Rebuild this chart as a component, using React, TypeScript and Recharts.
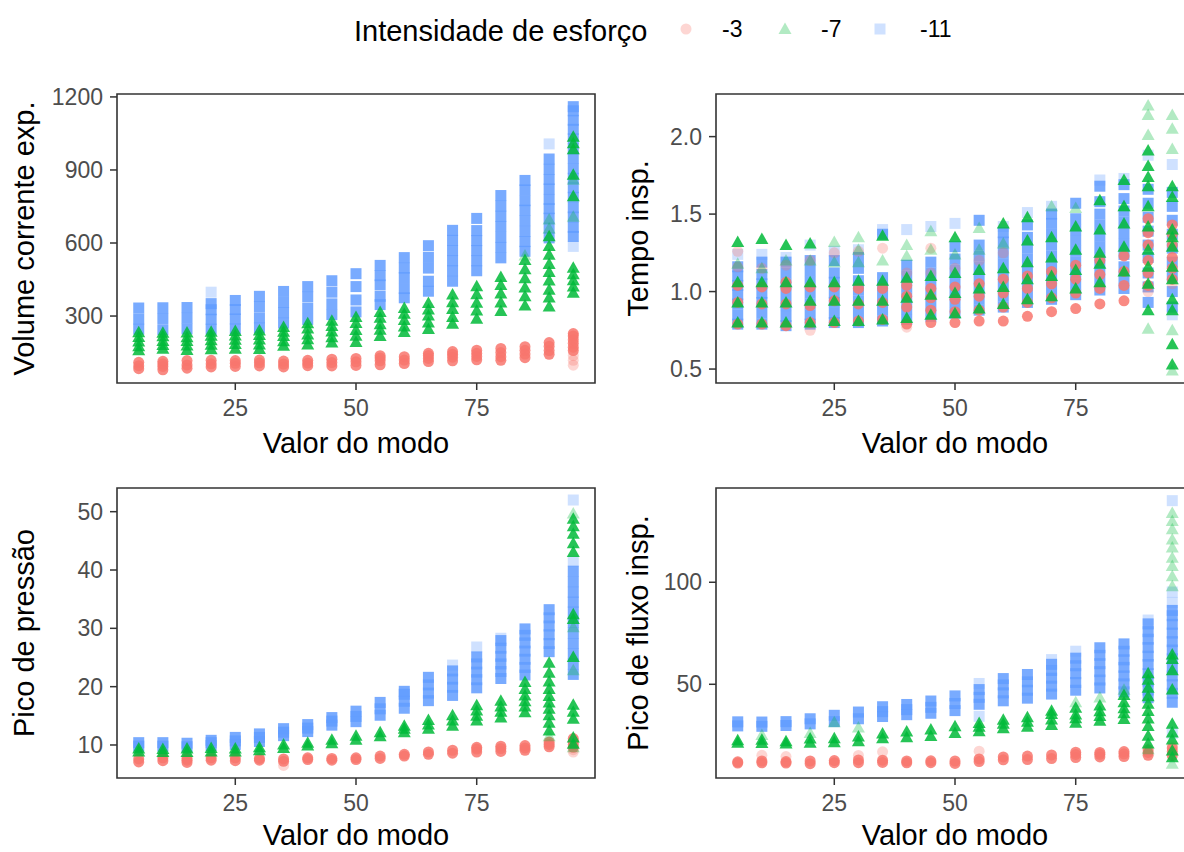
import React from "react";
import { ScatterChart, Scatter, XAxis, YAxis, ReferenceArea, Label } from "recharts";

const RED = "#F8766D";
const GREEN = "#00BA38";
const BLUE = "#619CFF";
const FONT = '"Liberation Sans", Arial, Helvetica, sans-serif';

const modes = [5, 10, 15, 20, 25, 30, 35, 40, 45, 50, 55, 60, 65, 70, 75, 80, 85, 90, 95];
const modeTicks = [25, 50, 75];
const effortLabels = ["-3", "-7", "-11"];

// Volume corrente exp. : dense clusters per mode, then single light points [mode, value]
const volRed = [
  [84, 96, 110], [79, 93, 104, 114], [86, 99, 117], [91, 104, 118], [93, 106, 117],
  [95, 108, 119], [91, 103, 115], [96, 107, 118], [95, 109, 123], [97, 112, 126],
  [100, 116, 128, 137], [105, 119, 133], [113, 126, 138, 147], [116, 131, 143, 154],
  [120, 134, 147, 160], [118, 133, 150, 167], [129, 144, 159, 174], [143, 158, 176, 191],
  [158, 172, 188, 203, 218, 228],
];
const volRedLight = [[95, 138], [95, 118], [95, 98]];
const volGreen = [
  [160, 176, 195, 214, 233], [166, 181, 198, 217, 231], [161, 179, 197, 213, 232],
  [164, 182, 201, 219, 236], [166, 185, 203, 220, 239], [165, 183, 204, 222, 241],
  [178, 196, 218, 236, 255], [183, 205, 224, 249, 270], [191, 213, 237, 259, 281],
  [193, 219, 243, 271, 296], [218, 244, 266, 293, 317], [234, 257, 284, 309, 333],
  [247, 273, 302, 327, 354], [268, 296, 329, 357, 388], [289, 323, 355, 390, 422],
  [321, 356, 393, 427, 460], [343, 381, 417, 455, 492, 530],
  [339, 376, 408, 446, 481, 514, 552, 588, 628],
  [396, 421, 447, 472, 498, 792, 880, 985, 1010, 1036],
];
const volGreenLight = [[85, 549], [90, 660], [90, 697], [95, 860], [95, 708]];
const volBlue = [
  [246, 288, 333], [244, 290, 334], [247, 291, 335], [246, 287, 326, 351], [247, 288, 327, 364],
  [251, 293, 339, 381], [271, 314, 356, 401], [286, 331, 378, 421], [306, 350, 398, 445],
  [317, 366, 421, 474], [347, 381, 428, 466, 508], [375, 413, 458, 497, 540],
  [402, 443, 497, 541, 589], [443, 486, 527, 569, 611, 652], [486, 527, 569, 610, 651, 701],
  [539, 582, 624, 668, 710, 752, 795], [566, 606, 648, 692, 735, 774, 818, 857],
  [621, 661, 702, 741, 779, 822, 861, 903, 945],
  [627, 664, 707, 745, 788, 827, 866, 905, 948, 987, 1028, 1067, 1104, 1143, 1160],
];
const volBlueLight = [[20, 398], [90, 1007], [95, 586]];

// Tempo insp.
const tempoRed = [
  [0.79, 0.93, 1.04], [0.79, 0.92, 1.03], [0.78, 0.92, 1.02, 1.06], [0.8, 0.91, 1.03],
  [0.8, 0.94, 1.03], [0.81, 0.92, 1.02], [0.82, 0.93, 1.02], [0.79, 0.9, 0.97, 1.04],
  [0.8, 0.88, 0.96, 1.02], [0.8, 0.87, 0.95, 1.03], [0.81, 0.88, 0.97, 1.05],
  [0.81, 0.9, 0.99, 1.08], [0.84, 0.93, 1.02, 1.1], [0.87, 0.96, 1.05, 1.13],
  [0.89, 0.99, 1.08, 1.17], [0.92, 1.02, 1.11, 1.2], [0.94, 1.04, 1.13, 1.23],
  [1.04, 1.12, 1.2, 1.3, 1.38, 1.47], [1.08, 1.15, 1.22, 1.3, 1.37, 1.43],
];
const tempoRedLight = [
  [5, 1.26], [5, 1.16], [10, 1.15], [15, 1.17], [20, 1.2], [20, 0.75], [25, 1.25], [30, 1.26],
  [35, 1.28], [40, 0.77], [40, 1.12], [45, 1.28], [45, 1.12], [50, 1.15], [55, 1.2], [60, 1.25],
  [90, 1.0], [95, 1.05],
];
const tempoGreen = [
  [0.8, 0.93, 1.06, 1.32], [0.8, 0.93, 1.06, 1.34], [0.8, 0.93, 1.06, 1.3], [0.8, 0.94, 1.06, 1.31],
  [0.81, 0.94, 1.06], [0.81, 0.94, 1.07], [0.82, 0.94, 1.07, 1.36], [0.83, 0.96, 1.09],
  [0.85, 0.98, 1.1], [0.86, 0.99, 1.12, 1.35], [0.89, 1.02, 1.14], [0.92, 1.03, 1.15, 1.44],
  [0.95, 1.08, 1.19, 1.33, 1.48], [0.97, 1.1, 1.22, 1.35], [1.02, 1.14, 1.27, 1.42],
  [1.06, 1.18, 1.25, 1.4, 1.59], [1.13, 1.29, 1.44, 1.55, 1.72],
  [0.88, 1.05, 1.16, 1.27, 1.42, 1.55, 1.68, 1.74, 1.81, 1.91],
  [0.53, 0.66, 0.88, 0.95, 1.08, 1.16, 1.29, 1.35, 1.4, 1.61, 1.68],
];
const tempoGreenLight = [
  [5, 1.18], [10, 1.15], [15, 1.2], [20, 1.2], [25, 1.32], [25, 1.19], [30, 1.35], [30, 1.27],
  [30, 1.19], [35, 1.2], [40, 1.3], [40, 1.23], [45, 1.39], [45, 1.27], [50, 1.24], [55, 1.41],
  [55, 1.27], [60, 1.31], [70, 1.55], [75, 1.54], [85, 1.55], [90, 0.76], [90, 2.01], [90, 2.14],
  [90, 2.2], [95, 0.75], [95, 0.49], [95, 1.92], [95, 2.05], [95, 2.14],
];
const tempoBlue = [
  [0.79, 0.85, 0.92, 0.98, 1.04, 1.1, 1.16], [0.79, 0.86, 0.93, 0.99, 1.05, 1.11, 1.19],
  [0.78, 0.84, 0.91, 0.98, 1.05, 1.12, 1.19], [0.79, 0.85, 0.92, 0.99, 1.06, 1.13, 1.2],
  [0.8, 0.86, 0.93, 0.99, 1.06, 1.12, 1.2], [0.8, 0.87, 0.94, 1.01, 1.07, 1.15, 1.22],
  [0.81, 0.88, 0.95, 1.02, 1.09, 1.37], [0.82, 0.89, 0.96, 1.03, 1.1, 1.17],
  [0.84, 0.91, 0.98, 1.05, 1.12, 1.19], [0.86, 0.93, 1.0, 1.07, 1.14, 1.21, 1.29],
  [0.88, 0.95, 1.02, 1.09, 1.16, 1.23, 1.3, 1.46], [0.9, 0.97, 1.04, 1.11, 1.18, 1.25, 1.32, 1.38],
  [0.93, 1.0, 1.07, 1.14, 1.21, 1.28, 1.35, 1.43], [0.95, 1.02, 1.09, 1.16, 1.23, 1.3, 1.37, 1.44, 1.5],
  [0.98, 1.05, 1.12, 1.19, 1.26, 1.33, 1.4, 1.47, 1.57],
  [1.01, 1.08, 1.15, 1.22, 1.29, 1.36, 1.43, 1.5, 1.58, 1.68],
  [1.02, 1.09, 1.16, 1.24, 1.31, 1.38, 1.45, 1.52, 1.6, 1.69],
  [0.93, 1.03, 1.12, 1.22, 1.3, 1.39, 1.48, 1.57, 1.66],
  [0.9, 1.0, 1.1, 1.19, 1.28, 1.37, 1.46, 1.55, 1.64],
];
const tempoBlueLight = [
  [5, 1.24], [10, 1.24], [15, 1.22], [20, 1.3], [25, 1.26], [30, 1.27], [35, 1.4], [40, 1.4],
  [45, 1.42], [50, 1.44], [60, 1.42], [65, 1.51], [70, 1.55], [80, 1.72], [85, 1.73], [90, 1.88],
  [95, 1.82], [95, 0.85],
];

// Pico de pressão
const presRed = [
  [7.1, 7.6], [7.3, 7.8], [7.0, 7.4, 7.7], [7.4, 7.8], [7.3, 7.8], [7.4, 7.7], [7.2, 7.6],
  [7.5, 7.8], [7.4, 7.7], [7.5, 7.8], [7.7, 8.1], [8.1, 8.4], [8.4, 8.8], [8.6, 9.1],
  [8.8, 9.3, 9.6], [8.9, 9.4, 9.8], [9.1, 9.5, 9.9], [9.7, 10.1, 10.5], [9.6, 10.1, 10.6, 11.1],
];
const presRedLight = [[35, 6.5], [95, 8.8], [95, 9.2]];
const presGreen = [
  [8.9, 9.4], [8.8, 9.3], [8.8, 9.4], [8.9, 9.5], [8.9, 9.4], [9.1, 9.6], [9.5, 10.1],
  [9.9, 10.4], [10.3, 10.9], [10.9, 11.6], [11.5, 12.2], [12.2, 12.8, 13.3], [12.8, 13.5, 14.3],
  [13.3, 14.2, 15.1], [14.2, 15.0, 15.9, 16.8], [14.7, 15.7, 16.6, 17.6],
  [15.6, 16.6, 17.5, 18.5, 19.6, 20.8],
  [12.5, 13.8, 15.1, 16.2, 17.3, 18.4, 19.6, 20.9, 22.4, 24.1],
  [10.2, 11.3, 14.5, 15.7, 16.9, 25.1, 31.6, 32.4, 43.1, 44.6, 46.2, 47.5, 48.8],
];
const presGreenLight = [[90, 11.5], [95, 9.6], [95, 22.8], [95, 30.2], [95, 49.7]];
const presBlue = [
  [9.8, 10.4], [9.8, 10.4], [9.7, 10.3], [9.9, 10.4, 10.8], [10.1, 10.7, 11.3], [10.6, 11.3, 11.9],
  [11.6, 12.2, 12.8], [12.3, 12.9, 13.5], [13.4, 14.1, 14.7], [14.0, 14.9, 15.8], [15.1, 16.2, 17.3],
  [16.3, 17.5, 18.7, 19.2], [17.6, 18.9, 20.3, 21.6], [18.5, 19.9, 21.3, 22.7],
  [19.8, 21.2, 22.5, 23.9, 25.1], [21.4, 22.6, 23.9, 25.2, 26.6, 27.9],
  [22.0, 23.3, 24.7, 26.1, 27.5, 28.8, 29.9], [26.0, 27.4, 28.9, 30.4, 31.8, 33.2],
  [22.1, 23.9, 25.6, 27.4, 29.2, 31.0, 32.8, 34.5, 36.2, 38.0, 39.8],
];
const presBlueLight = [[70, 23.7], [75, 26.8], [80, 28.3], [95, 41.5], [95, 52]];

// Pico de fluxo insp.
const fluxRed = [
  [11.4, 12.0], [11.5, 12.4], [11.4, 12.1], [11.1, 12.4], [11.6, 12.6], [11.6, 12.9], [11.7, 12.8],
  [11.5, 12.4], [11.6, 12.5], [11.2, 12.4], [12.1, 13.4], [13.0, 14.4], [13.1, 14.8], [13.6, 15.4],
  [14.1, 15.6, 16.7], [14.4, 15.7, 16.6], [14.6, 15.9, 17.0], [15.2, 16.6, 17.9], [15.1, 17.0, 18.8],
];
const fluxRedLight = [[10, 15.2], [15, 14.6], [30, 15.1], [35, 16.9], [55, 17.2], [95, 20]];
const fluxGreen = [
  [21.4, 22.6], [21.2, 22.8], [21.0, 22.1], [21.3, 23.4], [21.6, 23.5], [22.1, 24.4], [23.6, 25.9],
  [24.0, 26.8], [24.6, 27.8], [26.1, 29.4], [27.0, 29.2, 31.0], [28.4, 30.6, 32.6],
  [29.2, 31.6, 33.9], [30.1, 32.8, 35.4, 37.0], [31.1, 33.4, 35.2, 38.5], [32.1, 34.5, 36.8, 39.6],
  [33.0, 35.8, 38.3, 41.2, 44.8], [21.0, 24.8, 29.6, 33.2, 36.9, 40.5, 44.1, 48.3, 52.2, 55.4],
  [14.2, 17.6, 22.9, 26.4, 30.7, 47.5, 56.9, 62.4, 64.6],
];
const fluxGreenLight = [
  [10, 25.2], [20, 26.1], [25, 31.4], [30, 28.8], [75, 41.2], [80, 43.5], [85, 47.3], [90, 18.2],
  [95, 11], [95, 98], [95, 103], [95, 108], [95, 112], [95, 117], [95, 121], [95, 126], [95, 130],
  [95, 134],
];
const fluxBlue = [
  [29.6, 31.6], [29.4, 31.5], [29.8, 31.7], [30.6, 33.1], [31.7, 34.8], [33.1, 36.4],
  [34.2, 36.6, 39.0], [35.1, 37.6, 40.1], [35.8, 38.7, 41.8], [37.1, 40.6, 44.3], [40.2, 43.6, 47.4],
  [41.9, 45.8, 49.7, 52.8], [43.2, 47.1, 51.2, 54.8], [45.2, 49.1, 53.0, 56.8, 59.8],
  [47.1, 50.9, 55.2, 59.1, 62.8], [48.2, 52.1, 56.2, 60.1, 64.2, 67.9],
  [46.3, 50.2, 54.1, 58.3, 62.0, 66.2, 69.8],
  [43.4, 47.2, 51.6, 55.2, 59.7, 63.8, 68.0, 72.1, 75.8, 79.6],
  [41.2, 45.6, 49.8, 54.1, 58.2, 62.5, 66.8, 70.9, 75.1, 79.4, 83.6, 86.2],
];
const fluxBlueLight = [[55, 34.3], [55, 50.4], [70, 62.1], [75, 66.2], [90, 81.5], [95, 90.1], [95, 95.2], [95, 140], [95, 26]];

type Pt = { x: number; y: number };
const byMode = (cols: number[][]): Pt[] => cols.flatMap((ys, i) => ys.map((y) => ({ x: modes[i], y })));
const loose = (list: number[][]): Pt[] => list.map(([x, y]) => ({ x, y }));

const DENSE = 0.85;
const LIGHT = 0.3;
type Kind = "circle" | "triangle" | "square";

function marker(kind: Kind, color: string, opacity: number) {
  return (p: any) => {
    const { cx, cy } = p;
    if (cx == null || cy == null) return <g />;
    if (kind === "circle") return <circle cx={cx} cy={cy} r={5.5} fill={color} fillOpacity={opacity} />;
    if (kind === "triangle")
      return (
        <polygon
          points={`${cx},${cy - 6.5} ${cx - 6.5},${cy + 5} ${cx + 6.5},${cy + 5}`}
          fill={color}
          fillOpacity={opacity}
        />
      );
    return <rect x={cx - 5.5} y={cy - 5.5} width={11} height={11} fill={color} fillOpacity={opacity} />;
  };
}

type Group = { dense: number[][]; light: number[][] };

function Panel({
  left, top, height, axisHeight, yWidth, title, titleX, domain, ticks, digits, blue, red, green,
}: {
  left: number; top: number; height: number; axisHeight: number; yWidth: number; title: string;
  titleX: number; domain: [number, number]; ticks: number[]; digits: number;
  blue: Group; red: Group; green: Group;
}) {
  const layers: [Group, Kind, string][] = [
    [blue, "square", BLUE],
    [red, "circle", RED],
    [green, "triangle", GREEN],
  ];
  return (
    <div style={{ position: "absolute", left, top }}>
      <ScatterChart width={yWidth + 483} height={height} margin={{ top: 14, right: 5, left: 0, bottom: 0 }}>
        <XAxis
          type="number"
          dataKey="x"
          domain={[0.5, 99.5]}
          ticks={modeTicks}
          interval={0}
          allowDataOverflow
          height={axisHeight}
          tickSize={7}
          tickMargin={10}
          axisLine={false}
          tickLine={{ stroke: "#333333", strokeWidth: 1.5 }}
          tick={{ fill: "#4D4D4D", fontSize: 23 }}
        >
          <Label value="Valor do modo" position="insideBottom" offset={7} fill="#000" style={{ fontSize: 29, fill: "#000" }} />
        </XAxis>
        <YAxis
          type="number"
          dataKey="y"
          domain={domain}
          ticks={ticks}
          interval={0}
          allowDataOverflow
          width={yWidth}
          tickSize={7}
          tickMargin={7}
          axisLine={false}
          tickLine={{ stroke: "#333333", strokeWidth: 1.5 }}
          tick={{ fill: "#4D4D4D", fontSize: 23 }}
          tickFormatter={(v: number) => v.toFixed(digits)}
        >
          <Label
            value={title}
            angle={-90}
            position="insideLeft"
            offset={titleX}
            fill="#000"
            style={{ textAnchor: "middle", fontSize: 29, fill: "#000" }}
          />
        </YAxis>
        {layers.map(([g, kind, color]) => [
          <Scatter key={`${kind}-d`} data={byMode(g.dense)} shape={marker(kind, color, DENSE)} isAnimationActive={false} />,
          <Scatter key={`${kind}-l`} data={loose(g.light)} shape={marker(kind, color, LIGHT)} isAnimationActive={false} />,
        ])}
        <ReferenceArea
          x1={0.5}
          x2={99.5}
          y1={domain[0]}
          y2={domain[1]}
          fill="none"
          fillOpacity={0}
          stroke="#333333"
          strokeWidth={1.6}
          ifOverflow="visible"
        />
      </ScatterChart>
    </div>
  );
}

function LegendBar() {
  const colors = [RED, GREEN, BLUE];
  const keyX = [686, 785, 880];
  const textX = [722, 821, 920];
  return (
    <svg width={1184} height={60} style={{ position: "absolute", left: 0, top: 0 }}>
      <text x={354} y={41} fontSize={29} fill="#000">Intensidade de esforço</text>
      {effortLabels.map((lab, i) => {
        const cx = keyX[i];
        const cy = 29;
        const c = colors[i];
        return (
          <g key={lab}>
            {i === 0 && <circle cx={cx} cy={cy} r={5.5} fill={c} fillOpacity={LIGHT} />}
            {i === 1 && <polygon points={`${cx},${cy - 6.5} ${cx - 6.5},${cy + 5} ${cx + 6.5},${cy + 5}`} fill={c} fillOpacity={LIGHT} />}
            {i === 2 && <rect x={cx - 5.5} y={cy - 5.5} width={11} height={11} fill={c} fillOpacity={LIGHT} />}
            <text x={textX[i]} y={37} fontSize={23} fill="#000">{lab}</text>
          </g>
        );
      })}
    </svg>
  );
}

export default function App() {
  return (
    <div
      style={{
        position: "absolute", left: 0, top: 0, width: 1184, height: 852, overflow: "hidden",
        background: "#fff", fontFamily: FONT,
      }}
    >
      <LegendBar />
      <Panel
        left={0} top={80} height={380} axisHeight={77} yWidth={117}
        title="Volume corrente exp." titleX={24} domain={[25, 1212]} ticks={[300, 600, 900, 1200]} digits={0}
        red={{ dense: volRed, light: volRedLight }}
        green={{ dense: volGreen, light: volGreenLight }}
        blue={{ dense: volBlue, light: volBlueLight }}
      />
      <Panel
        left={600} top={80} height={380} axisHeight={77} yWidth={116}
        title="Tempo insp." titleX={38} domain={[0.41, 2.275]} ticks={[0.5, 1.0, 1.5, 2.0]} digits={1}
        red={{ dense: tempoRed, light: tempoRedLight }}
        green={{ dense: tempoGreen, light: tempoGreenLight }}
        blue={{ dense: tempoBlue, light: tempoBlueLight }}
      />
      <Panel
        left={0} top={474} height={378} axisHeight={74} yWidth={117}
        title="Pico de pressão" titleX={24} domain={[4.34, 54.06]} ticks={[10, 20, 30, 40, 50]} digits={0}
        red={{ dense: presRed, light: presRedLight }}
        green={{ dense: presGreen, light: presGreenLight }}
        blue={{ dense: presBlue, light: presBlueLight }}
      />
      <Panel
        left={600} top={474} height={378} axisHeight={74} yWidth={116}
        title="Pico de fluxo insp." titleX={38} domain={[4.07, 146.2]} ticks={[50, 100]} digits={0}
        red={{ dense: fluxRed, light: fluxRedLight }}
        green={{ dense: fluxGreen, light: fluxGreenLight }}
        blue={{ dense: fluxBlue, light: fluxBlueLight }}
      />
    </div>
  );
}
